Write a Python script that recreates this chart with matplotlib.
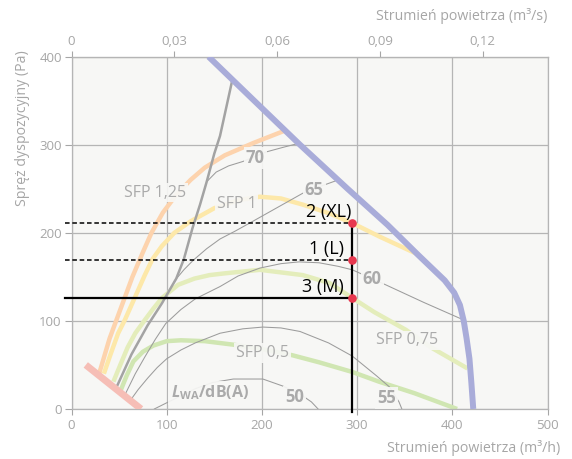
import matplotlib
matplotlib.use("Agg")
import matplotlib.pyplot as plt

plt.rcParams['font.family'] = ['Open Sans', 'DejaVu Sans']
plt.rcParams['mathtext.fontset'] = 'custom'
plt.rcParams['mathtext.it'] = 'Open Sans:italic:bold'
plt.rcParams['mathtext.bf'] = 'Open Sans:bold'
plt.rcParams['mathtext.rm'] = 'Open Sans:bold'

# ---- data (airflow in m3/h, pressure in Pa) ----
x_ticks = [0, 100, 200, 300, 400, 500]
y_ticks = [0, 100, 200, 300, 400]
top_ticks = [0, 0.03, 0.06, 0.09, 0.12]
top_tick_labels = ["0", "0,03", "0,06", "0,09", "0,12"]

max_x = [144, 190, 240, 290, 332, 364, 392, 402, 408, 412, 415, 418, 420, 422]
max_y = [400, 352, 300, 250, 209, 175, 146, 132, 118, 100, 80, 57, 30, 0]

min_x = [15, 73]
min_y = [50, 0]

sfp125_x = [29, 40, 52, 64, 75, 84, 96, 110, 125, 140, 161, 191, 224]
sfp125_y = [40, 80, 115, 150, 178, 200, 223, 243, 260, 274, 288, 302, 316]

sfp1_x = [34, 41, 49, 56, 63, 70, 77, 85, 95, 108, 125, 150, 175, 198, 220, 243, 271, 295, 323, 365]
sfp1_y = [40, 62, 86, 101, 118, 135, 152, 170, 185, 200, 213, 228, 237, 241, 239, 232, 222, 211, 196, 175]

sfp075_x = [44, 52, 59, 67, 77, 86, 95, 112, 129, 145, 161, 198, 243, 271, 295, 318, 351, 379, 416]
sfp075_y = [31, 52, 70, 86, 101, 114, 126, 141, 148, 152, 154, 158, 152, 143, 126, 110, 90, 69, 46]

sfp05_x = [52, 58, 65, 75, 86, 100, 115, 140, 170, 200, 232, 260, 295, 323, 360, 405]
sfp05_y = [22, 38, 54, 65, 72, 77, 78, 77, 73, 68, 61, 53, 42, 31, 18, 0]

system_x = [47, 63, 80, 95, 103, 110, 118, 127, 135, 142, 150, 156, 169]
system_y = [24, 62, 95, 120, 135, 148, 170, 205, 232, 258, 290, 310, 374]

lwa70_x = [142, 152, 165, 180, 205, 222, 240]
lwa70_y = [258, 269, 276, 281, 292, 297, 302]

lwa65_x = [108, 118, 128, 142, 156, 172, 187, 215, 243, 262, 280]
lwa65_y = [145, 158, 169, 182, 193, 202, 211, 228, 245, 253, 260]

lwa60_x = [57, 67, 77, 88, 99, 115, 130, 156, 175, 198, 220, 239, 260, 280, 295, 330, 370, 412]
lwa60_y = [18, 40, 59, 79, 97, 113, 125, 139, 151, 160, 165, 167, 166, 162, 158, 141, 121, 101]

lwa55_x = [62, 70, 80, 90, 100, 115, 130, 156, 180, 201, 220, 240, 270, 295, 320, 334, 344, 347]
lwa55_y = [10, 22, 35, 47, 57, 67, 75, 86, 91, 93, 92, 88, 75, 60, 38, 25, 8, 0]

lwa50_x = [87, 100, 115, 130, 148, 170, 201, 222, 240, 252, 259]
lwa50_y = [0, 7, 15, 23, 30, 34, 34, 26, 17, 8, 0]

op_flow = 295
op_names = ["2 (XL)", "1 (L)", "3 (M)"]
op_pressure = [211, 169, 126]

# ---- figure ----
BG = '#f7f7f5'
GRID = '#b5b5b5'
TXT = '#a6a6a6'

fig = plt.figure(figsize=(5.72, 4.59), dpi=100)
ax = fig.add_axes([0.125, 0.109, 0.8322, 0.7675])
ax.set_facecolor(BG)
ax.set_xlim(0, 500)
ax.set_ylim(0, 400)
ax.set_xticks(x_ticks)
ax.set_yticks(y_ticks)
ax.grid(True, color=GRID, linewidth=0.9, zorder=0)
ax.set_axisbelow(True)
for s in ax.spines.values():
    s.set_color(GRID)
    s.set_linewidth(0.9)
ax.tick_params(colors=TXT, labelsize=9.5, length=4, width=0.8, pad=3)
ax.tick_params(axis='y', length=5, pad=2)

sec = ax.secondary_xaxis('top', functions=(lambda v: v / 3600.0, lambda v: v * 3600.0))
sec.set_xticks(top_ticks)
sec.set_xticklabels(top_tick_labels)
sec.tick_params(colors=TXT, labelsize=9.5, length=4, width=0.8, pad=2)
sec.spines['top'].set_color(GRID)

# efficiency (SFP) curves
ax.plot(sfp125_x, sfp125_y, color='#fdd3ad', lw=3.2, solid_capstyle='butt', zorder=2)
ax.plot(sfp1_x, sfp1_y, color='#fde8a9', lw=3.2, solid_capstyle='butt', zorder=2)
ax.plot(sfp075_x, sfp075_y, color='#e4edbb', lw=3.2, solid_capstyle='butt', zorder=2)
ax.plot(sfp05_x, sfp05_y, color='#d0e6b2', lw=3.2, solid_capstyle='butt', zorder=2)

# sound power contours
for cx, cy in [(lwa70_x, lwa70_y), (lwa65_x, lwa65_y), (lwa60_x, lwa60_y),
               (lwa55_x, lwa55_y), (lwa50_x, lwa50_y)]:
    ax.plot(cx, cy, color='#9c9c9c', lw=0.75, zorder=2.2)

# system curve
ax.plot(system_x, system_y, color='#a3a3a3', lw=1.8, zorder=2.4)

# operating limits
ax.plot(max_x, max_y, color='#a9acd9', lw=4.3, solid_capstyle='butt', zorder=3)
ax.plot(min_x, min_y, color='#f6beb6', lw=5.0, solid_capstyle='butt', zorder=3)

# labels on curves
box = dict(boxstyle='square,pad=0.12', facecolor=BG, edgecolor='none', alpha=0.92)
sfp_labels = [("SFP 1,25", 87.5, 245.7), ("SFP 1", 173.5, 233.0),
              ("SFP 0,75", 352.7, 77.8), ("SFP 0,5", 201.0, 63.6)]
for t, x, y in sfp_labels:
    ax.text(x, y, t, color='#aaaaaa', fontsize=11.5, ha='center', va='center', bbox=box, zorder=4)

lwa_labels = [("70", 193, 285), ("65", 255, 248.6), ("60", 316, 148),
              ("55", 331, 12), ("50", 234, 14)]
for t, x, y in lwa_labels:
    ax.text(x, y, t, color='#aaaaaa', fontsize=12, fontweight='bold', ha='center', va='center',
            bbox=box, zorder=4)

ax.text(145.4, 18.2, r"$\mathit{L}_{\mathbf{WA}}$/dB(A)", color='#aaaaaa', fontsize=11.5,
        fontweight='bold', ha='center', va='center',
        bbox=dict(boxstyle='square,pad=0.15', facecolor=BG, edgecolor='none', alpha=0.92),
        zorder=4)

# operating points
ax.plot([op_flow, op_flow], [-4, op_pressure[0]], color='black', lw=1.6, zorder=5, clip_on=False)
ax.plot([-7, op_flow], [op_pressure[0]] * 2, color='black', lw=1.1, dashes=(3, 1.8), zorder=5, clip_on=False)
ax.plot([-7, op_flow], [op_pressure[1]] * 2, color='black', lw=1.1, dashes=(3, 1.8), zorder=5, clip_on=False)
ax.plot([-7, op_flow], [op_pressure[2]] * 2, color='black', lw=1.6, zorder=5, clip_on=False)
ax.plot([op_flow] * 3, op_pressure, 'o', color='#e8384f', markersize=5.2, zorder=6, clip_on=False)

label_right = [294, 286, 286]
for name, p, xr in zip(op_names, op_pressure, label_right):
    ax.text(xr, p + 7, name, color='black', fontsize=13, ha='right', va='baseline', zorder=6)

# axis titles
fig.text(560 / 572, 1 - 448.5 / 459, "Strumień powietrza (m³/h)", color=TXT, fontsize=10.2,
         ha='right', va='center')
fig.text(547 / 572, 1 - 16.5 / 459, "Strumień powietrza (m³/s)", color=TXT, fontsize=10.2,
         ha='right', va='center')
fig.text(23 / 572, 1 - 50 / 459, "Spręż dyspozycyjny (Pa)", color=TXT, fontsize=10.2,
         rotation=90, ha='center', va='top')

fig.savefig("out.png", dpi=100)
